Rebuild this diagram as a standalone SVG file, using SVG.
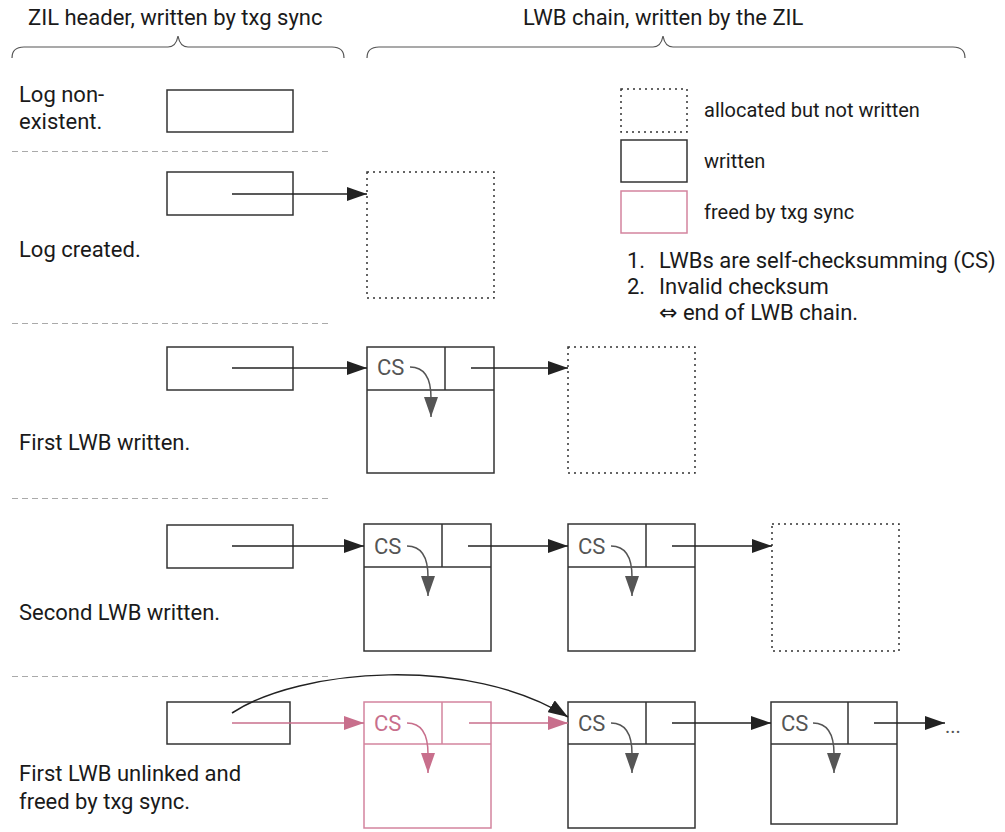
<svg xmlns="http://www.w3.org/2000/svg" width="1005" height="832" viewBox="0 0 1005 832">
  <style>
    text { font-family: Roboto, "Liberation Sans", sans-serif; fill: #1a1a1a; }
    .lbl { font-size: 22px; }
    .leg { font-size: 20px; }
    .sym { font-family: "DejaVu Sans", sans-serif; font-size: 22px; }
    .cs { font-size: 22px; fill: #555; }
    .cs.freed { fill: #c86f8c; }
    .more { font-size: 20px; fill: #555; }
    .box { fill: none; stroke: #333; stroke-width: 1.5; }
    .alloc { fill: none; stroke: #333; stroke-width: 1.5; stroke-dasharray: 2 4; }
    .freed-box { fill: none; stroke: #d3849e; stroke-width: 1.5; }
    .sep { stroke: #aaa; stroke-width: 1.2; stroke-dasharray: 6 4; }
    .brace { fill: none; stroke: #555; stroke-width: 1.2; }
    .ptr { fill: none; stroke: #222; stroke-width: 1.5; marker-end: url(#head); }
    .ptr.freed { stroke: #c86f8c; marker-end: url(#head-pink); }
    .csa { fill: none; stroke: #555; stroke-width: 1.5; marker-end: url(#head-gray); }
    .csa.freed { stroke: #c86f8c; marker-end: url(#head-pink); }
  </style>
  <defs>
    <marker id="head" markerUnits="userSpaceOnUse" markerWidth="20" markerHeight="14" refX="20" refY="7" orient="auto">
      <path d="M0,0 L20,7 L0,14 z" fill="#222"/>
    </marker>
    <marker id="head-pink" markerUnits="userSpaceOnUse" markerWidth="20" markerHeight="14" refX="20" refY="7" orient="auto">
      <path d="M0,0 L20,7 L0,14 z" fill="#c86f8c"/>
    </marker>
    <marker id="head-gray" markerUnits="userSpaceOnUse" markerWidth="20" markerHeight="14" refX="20" refY="7" orient="auto">
      <path d="M0,0 L20,7 L0,14 z" fill="#555"/>
    </marker>
  </defs>

  <rect width="1005" height="832" fill="#fff"/>

  <!-- column headings with braces -->
  <g id="heading-header">
    <text class="lbl" x="28" y="25">ZIL header, written by txg sync</text>
    <path class="brace" d="M12,58 Q12,47 24,47 L168,47 Q176,47 178,36 Q180,47 188,47 L332,47 Q344,47 344,58"/>
  </g>
  <g id="heading-chain">
    <text class="lbl" x="523" y="25">LWB chain, written by the ZIL</text>
    <path class="brace" d="M367,58 Q367,47 379,47 L653,47 Q661,47 663,36 Q665,47 673,47 L953,47 Q965,47 965,58"/>
  </g>

  <!-- legend -->
  <g id="legend">
    <rect class="alloc" x="621" y="89" width="66" height="43"/>
    <text class="leg" x="704" y="117">allocated but not written</text>
    <rect class="box" x="621" y="140" width="66" height="42"/>
    <text class="leg" x="704" y="168">written</text>
    <rect class="freed-box" x="621" y="191" width="66" height="42"/>
    <text class="leg" x="704" y="219">freed by txg sync</text>
    <text class="lbl" x="627" y="268">1.</text>
    <text class="lbl" x="659" y="268">LWBs are self-checksumming (CS)</text>
    <text class="lbl" x="627" y="294">2.</text>
    <text class="lbl" x="659" y="294">Invalid checksum</text>
    <text class="lbl" x="659" y="320"><tspan class="sym">⇔</tspan> end of LWB chain.</text>
  </g>

  <!-- row separators -->
  <g id="separators">
    <line class="sep" x1="12" y1="151.5" x2="328" y2="151.5"/>
    <line class="sep" x1="12" y1="323.5" x2="328" y2="323.5"/>
    <line class="sep" x1="12" y1="498.5" x2="328" y2="498.5"/>
    <line class="sep" x1="12" y1="676.5" x2="328" y2="676.5"/>
  </g>

  <!-- state 1: log non-existent -->
  <g id="state-nonexistent">
    <text class="lbl" x="19" y="102">Log non-</text>
    <text class="lbl" x="19" y="129">existent.</text>
    <rect class="box" x="167" y="90" width="126" height="42"/>
  </g>

  <!-- state 2: log created -->
  <g id="state-created">
    <text class="lbl" x="19" y="257">Log created.</text>
    <rect id="hdr-2" class="box" x="167" y="172" width="126" height="43"/>
    <rect id="lwb-2a" class="alloc" x="367" y="172" width="127" height="126"/>
  </g>

  <!-- state 3: first LWB written -->
  <g id="state-first">
    <text class="lbl" x="19" y="450">First LWB written.</text>
    <rect id="hdr-3" class="box" x="167" y="347" width="126" height="43"/>
    <g id="lwb-3a">
      <rect class="box" x="367" y="347" width="127" height="126"/>
      <line class="box" x1="367" y1="390" x2="494" y2="390"/>
      <line class="box" x1="445" y1="347" x2="445" y2="390"/>
      <text class="cs" x="377" y="375">CS</text>
    </g>
    <rect id="lwb-3b" class="alloc" x="568" y="347" width="127" height="126"/>
  </g>

  <!-- state 4: second LWB written -->
  <g id="state-second">
    <text class="lbl" x="19" y="620">Second LWB written.</text>
    <rect id="hdr-4" class="box" x="167" y="525" width="126" height="43"/>
    <g id="lwb-4a">
      <rect class="box" x="364" y="524" width="127" height="127"/>
      <line class="box" x1="364" y1="567" x2="491" y2="567"/>
      <line class="box" x1="442" y1="524" x2="442" y2="567"/>
      <text class="cs" x="374" y="554">CS</text>
    </g>
    <g id="lwb-4b">
      <rect class="box" x="568" y="524" width="127" height="127"/>
      <line class="box" x1="568" y1="567" x2="695" y2="567"/>
      <line class="box" x1="646" y1="524" x2="646" y2="567"/>
      <text class="cs" x="578" y="554">CS</text>
    </g>
    <rect id="lwb-4c" class="alloc" x="772" y="524" width="127" height="127"/>
  </g>

  <!-- state 5: first LWB unlinked and freed -->
  <g id="state-unlinked">
    <text class="lbl" x="19" y="781">First LWB unlinked and</text>
    <text class="lbl" x="19" y="809">freed by txg sync.</text>
    <rect id="hdr-5" class="box" x="167" y="702" width="123" height="42"/>
    <g id="lwb-5a">
      <rect class="freed-box" x="364" y="702" width="127" height="126"/>
      <line class="freed-box" x1="364" y1="744" x2="491" y2="744"/>
      <line class="freed-box" x1="442" y1="702" x2="442" y2="744"/>
      <text class="cs freed" x="374" y="731">CS</text>
    </g>
    <g id="lwb-5b">
      <rect class="box" x="568" y="702" width="127" height="126"/>
      <line class="box" x1="568" y1="744" x2="695" y2="744"/>
      <line class="box" x1="646" y1="702" x2="646" y2="744"/>
      <text class="cs" x="578" y="731">CS</text>
    </g>
    <g id="lwb-5c">
      <rect class="box" x="771" y="702" width="126" height="122"/>
      <line class="box" x1="771" y1="744" x2="897" y2="744"/>
      <line class="box" x1="848" y1="702" x2="848" y2="744"/>
      <text class="cs" x="781" y="731">CS</text>
    </g>
    <text class="more" x="945" y="733">...</text>
  </g>

  <!-- connectors -->
  <g id="connectors">
    <!-- state 2 -->
    <line class="ptr" x1="232" y1="194" x2="367" y2="194"/>
    <!-- state 3 -->
    <line class="ptr" x1="232" y1="368" x2="367" y2="368"/>
    <path class="csa" d="M410,367 C426,367 431,380 431,398 L431,417"/>
    <line class="ptr" x1="471" y1="368" x2="568" y2="368"/>
    <!-- state 4 -->
    <line class="ptr" x1="232" y1="546" x2="364" y2="546"/>
    <path class="csa" d="M407,546 C423,546 428,559 428,577 L428,596"/>
    <line class="ptr" x1="468" y1="546" x2="568" y2="546"/>
    <path class="csa" d="M611,546 C627,546 632,559 632,577 L632,596"/>
    <line class="ptr" x1="672" y1="546" x2="772" y2="546"/>
    <!-- state 5 -->
    <line class="ptr freed" x1="232" y1="723" x2="364" y2="723"/>
    <path class="csa freed" d="M407,723 C423,723 428,736 428,754 L428,773"/>
    <line class="ptr freed" x1="469" y1="723" x2="568" y2="723"/>
    <path class="ptr" d="M232,713 C300,668 470,655 568,717"/>
    <path class="csa" d="M611,723 C627,723 632,736 632,754 L632,773"/>
    <line class="ptr" x1="672" y1="723" x2="771" y2="723"/>
    <path class="csa" d="M813,723 C829,723 834,736 834,754 L834,773"/>
    <line class="ptr" x1="874" y1="723" x2="945" y2="723"/>
  </g>
</svg>
